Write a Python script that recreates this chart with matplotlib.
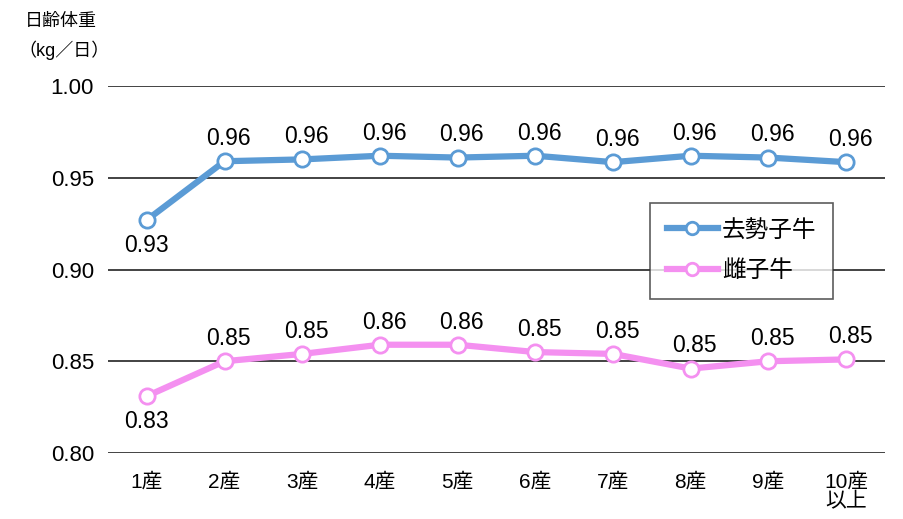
import matplotlib
matplotlib.use("Agg")
import matplotlib.pyplot as plt

plt.rcParams['font.family'] = ['Liberation Sans', 'Noto Sans CJK JP']

categories = ["1産", "2産", "3産", "4産", "5産", "6産", "7産", "8産", "9産", "10産\n以上"]
steer = [0.927, 0.959, 0.960, 0.962, 0.961, 0.962, 0.9585, 0.962, 0.961, 0.9585]
heifer = [0.831, 0.850, 0.854, 0.859, 0.859, 0.855, 0.854, 0.846, 0.850, 0.851]
series_names = ["去勢子牛", "雌子牛"]
y_ticks = [0.80, 0.85, 0.90, 0.95, 1.00]

blue = "#5B9BD5"
pink = "#F490F0"

fig = plt.figure(figsize=(9.04, 5.19), dpi=100)
ax = fig.add_axes([108/904, 1-453/519, (885-108)/904, (453-86)/519])

x = list(range(len(categories)))
ax.plot(x, steer, color=blue, lw=4.5, marker='o', ms=11, mfc='white',
        mec=blue, mew=2, label=series_names[0], zorder=3)
ax.plot(x, heifer, color=pink, lw=4.5, marker='o', ms=11, mfc='white',
        mec=pink, mew=2, label=series_names[1], zorder=3)

for xi, v in zip(x, steer):
    if xi == 0:
        ax.annotate(f"{v:.2f}", (xi, v), xytext=(0, -10), textcoords='offset points',
                    ha='center', va='top', fontsize=16.5)
    else:
        ax.annotate(f"{v:.2f}", (xi, v), xytext=(3, 8), textcoords='offset points',
                    ha='center', va='bottom', fontsize=16.5)
for xi, v in zip(x, heifer):
    if xi == 0:
        ax.annotate(f"{v:.2f}", (xi, v), xytext=(0, -10), textcoords='offset points',
                    ha='center', va='top', fontsize=16.5)
    else:
        ax.annotate(f"{v:.2f}", (xi, v), xytext=(3, 8), textcoords='offset points',
                    ha='center', va='bottom', fontsize=16.5)

ax.set_xlim(-0.5, len(categories) - 0.5)
ax.set_ylim(0.80, 1.00)
ax.set_yticks(y_ticks)
ax.set_yticklabels([f"{t:.2f}" for t in y_ticks], fontsize=16)
ax.set_xticks(x)
ax.set_xticklabels(categories, fontsize=15, linespacing=1.05)
ax.tick_params(length=0)
ax.tick_params(axis='x', pad=14)
ax.tick_params(axis='y', pad=10)
for s in ax.spines.values():
    s.set_visible(False)
ax.yaxis.grid(True, color='#222222', lw=1.2)
ax.set_axisbelow(True)

leg = ax.legend(loc='upper left', bbox_to_anchor=((650-108)/777, (453-203)/367),
                fontsize=17, frameon=True, fancybox=False, edgecolor='#333333',
                handlelength=2.2, borderpad=0.7, labelspacing=0.8, handletextpad=0.15,
                borderaxespad=0)
leg.get_frame().set_linewidth(1.2)
for h in leg.legend_handles:
    h.set_markersize(9)

fig.text(25/904, 1-22/519, "日齢体重", fontsize=13, va='center', ha='left')
fig.text(18/904, 1-50/519, "（kg／日）", fontsize=13, va='center', ha='left')

fig.savefig("out.png", dpi=100)
